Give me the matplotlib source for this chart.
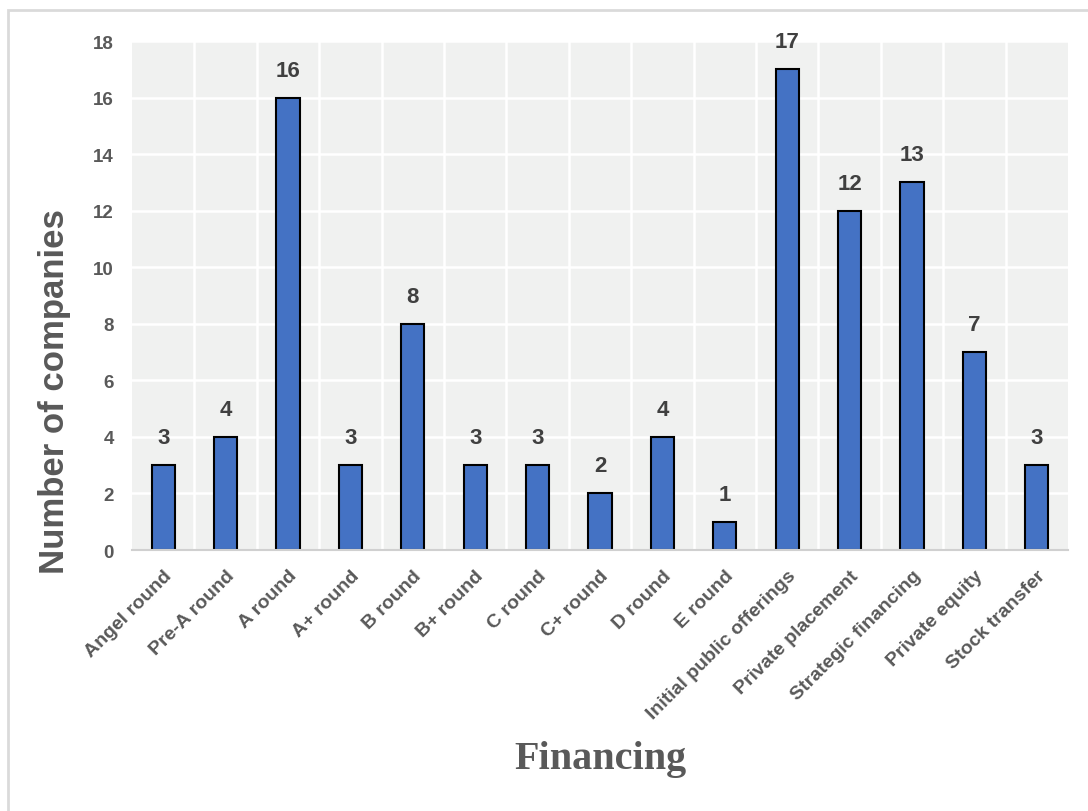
import matplotlib.pyplot as plt
from matplotlib.patches import Rectangle
import numpy as np

# Financing types and company counts
categories = ["Angel round", "Pre-A round", "A round", "A+ round", "B round",
              "B+ round", "C round", "C+ round", "D round", "E round",
              "Initial public offerings", "Private placement",
              "Strategic financing", "Private equity", "Stock transfer"]
counts = [3, 4, 16, 3, 8, 3, 3, 2, 4, 1, 17, 12, 13, 7, 3]
yticks = [0, 2, 4, 6, 8, 10, 12, 14, 16, 18]

plt.rcParams['font.family'] = ['Liberation Sans', 'DejaVu Sans']

fig = plt.figure(figsize=(10.88, 8.12), dpi=100)
ax = fig.add_axes([132 / 1088, 1 - 551 / 812, (1068 - 132) / 1088, (551 - 42) / 812])

# light frame around the figure
fig.patches.append(Rectangle((8 / 1088, -0.1), 1.2, 1.1 - 11 / 812,
                             transform=fig.transFigure, fill=False,
                             edgecolor='#dadada', linewidth=2, zorder=0))

x = np.arange(len(categories))
ax.set_facecolor('#f0f1f0')
bars = ax.bar(x, counts, width=0.37, color='#4472C4', edgecolor='black',
              linewidth=1.5, zorder=3)

for xi, v in zip(x, counts):
    ax.text(xi, v + 0.6, str(v), ha='center', va='bottom', fontsize=16,
            fontweight='bold', color='#404040', zorder=4)

ax.set_xlim(-0.5, len(categories) - 0.5)
ax.set_ylim(0, 18)
ax.set_yticks(yticks)
ax.set_yticklabels([str(t) for t in yticks], fontsize=13.5, fontweight='bold',
                   color='#595959')

# white grid: horizontal at each tick, vertical between categories
for t in yticks[1:]:
    ax.axhline(t, color='white', linewidth=1.8, zorder=1)
for b in np.arange(0.5, len(categories) - 0.5, 1):
    ax.axvline(b, color='white', linewidth=1.8, zorder=1)

ax.set_xticks(x)
ax.set_xticklabels(categories, rotation=45, ha='right', rotation_mode='anchor',
                   fontsize=14, fontweight='bold', color='#595959')
ax.tick_params(axis='both', length=0)
ax.tick_params(axis='y', pad=13)
ax.tick_params(axis='x', pad=12)

for side in ['top', 'right', 'left']:
    ax.spines[side].set_visible(False)
ax.spines['bottom'].set_color('#d0d0d0')
ax.spines['bottom'].set_linewidth(1.5)
ax.spines['bottom'].set_zorder(5)

fig.text(55 / 1088, 1 - 392 / 812, "Number of companies", rotation=90,
         ha='center', va='center', fontsize=25, fontweight='bold', color='#595959')
fig.text(600 / 1088, 1 - 760 / 812, "Financing", ha='center', va='center',
         fontsize=29, fontweight='bold', color='#595959',
         family=['Liberation Serif', 'DejaVu Serif'])

fig.savefig("out.png", dpi=100)
